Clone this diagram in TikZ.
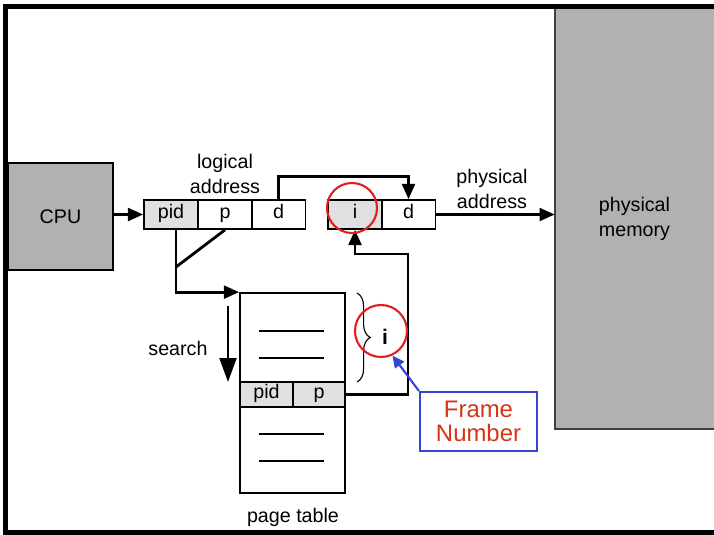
\documentclass[tikz,border=0pt]{standalone}
\usepackage{fontspec}
\setmainfont{Liberation Sans}
\usepackage{xcolor}
\usepackage{tikz}
\usetikzlibrary{
	arrows.meta,
	decorations.pathreplacing
}
\definecolor{BoxGray}{RGB}{177,176,179}
\definecolor{CellGray}{RGB}{224,223,226}
\definecolor{MarkRed}{RGB}{226,30,30}
\definecolor{NoteBlue}{RGB}{52,68,214}
\definecolor{NoteRed}{RGB}{214,52,24}

\begin{document}
\begin{tikzpicture}[x=0.025cm, y=-0.025cm, font=\fontsize{14}{17.8}\selectfont,
		cell/.style={draw, line width=1.2pt, minimum height=0.725cm, minimum width=1.35cm, inner sep=0pt, text height=0.72em, text depth=0.2em},
		tcell/.style={cell, fill=CellGray, minimum height=0.625cm, minimum width=1.31cm},
		arr/.style={line width=2pt, -{Triangle[length=0.38cm, width=0.32cm]}},
		ring/.style={circle, draw=MarkRed, line width=1.5pt, inner sep=0pt},
		lbl/.style={align=center}
	]
		\useasboundingbox (0,0) rectangle (714,534);
		\node[fill=BoxGray, minimum width=3.975cm, minimum height=10.5cm, inner sep=0pt, lbl] (mem) at (634.5,219) {physical\\memory};
		\draw[line width=1.2pt, black!75] (714,429) -| (555,9);
		\node[draw, fill=BoxGray, line width=1.2pt, minimum width=2.625cm, minimum height=2.675cm] (cpu) at (60.5,216.5) {CPU};
		\node[cell, fill=CellGray] (lpid) at (171,214.5) {pid};
		\node[cell] (lp) at (225,214.5) {p};
		\node[cell] (ld) at (278.5,214.5) {d};
		\node[lbl] (laddr) at (225,174) {logical\\address};
		\node[cell, fill=CellGray] (pi) at (355,214.5) {i};
		\node[cell] (pd) at (408.5,214.5) {d};
		\node[lbl] (paddr) at (492,189) {physical\\address};
		\node[draw, line width=1.2pt, minimum width=2.625cm, minimum height=5cm] (tab) at (292.5,393) {};
		\node[tcell] (tpid) at (266.5,394.5) {pid};
		\node[tcell] (tp) at (319,394.5) {p};
		\foreach \y in {331,358,434,461}
			\draw[line width=0.9pt] (259,\y) -- (324,\y);
		\node (tlabel) at (293,517) {page table};
		\node (search) at (178,348) {search};
		\coordinate (s1) at (228,306);
		\coordinate (s2) at (228,382);
		\draw[line width=2pt, -{Triangle[length=0.6cm, width=0.42cm]}] (s1) -- (s2);
		\draw[arr] (cpu.east |- lpid.west) -- (lpid.west);
		\draw[arr] (ld.north) -- ++(0,-23) -| (pd.north);
		\draw[arr] (pd.east) -- (pd.east -| mem.west);
		\coordinate (split) at (176,267);
		\draw[arr] (lpid.south -| split) |- (tab.north west);
		\draw[line width=2pt] (lp.south) -- (split);
		\coordinate (turn) at (408,254);
		\draw[arr] (tp.east) -| (turn) -| (pi.south);
		\draw[decorate, decoration={brace, amplitude=0.33cm}, line width=0.8pt] (357,293) -- (357,382);
		\node[font=\fontsize{15}{17}\bfseries] (ilabel) at (385,337) {i};
		\node[ring, minimum size=1.25cm] (ring1) at (352,208) {};
		\node[ring, minimum size=1.3cm] (ring2) at (381,331) {};
		\node[draw=NoteBlue, line width=1.5pt, text=NoteRed, minimum width=2.925cm, minimum height=1.475cm, align=center, font=\fontsize{17}{17}\selectfont] (fnum) at (478.5,421.5) {Frame\\Number};
		\draw[NoteBlue, line width=1.5pt, -{Triangle[length=0.3cm, width=0.28cm]}] (fnum.north west) -- (ring2.-65);
		\draw[line width=0.125cm] (714,6.5) -| (5.5,532) -- (714,532);
	\end{tikzpicture}
\end{document}
